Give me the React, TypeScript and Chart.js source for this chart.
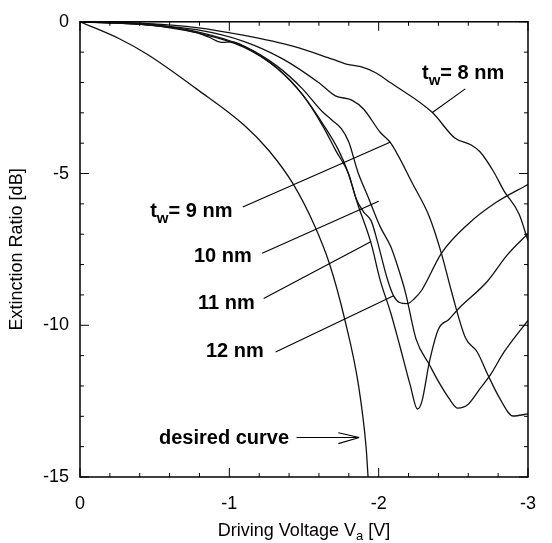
import React, { useEffect, useRef } from 'react';
import { Chart, registerables } from 'chart.js';

Chart.register(...registerables);

// ---- data (V in volts, extinction ratio in dB) ----
const tw8V = [0, -0.45, -0.78, -1.10, -1.43, -1.69, -1.79, -1.88, -1.98, -2.08, -2.36, -2.51, -2.62, -2.68, -2.77, -2.84, -2.94, -3.0];
const tw8Db = [0, -0.06, -0.19, -0.45, -0.81, -1.23, -1.40, -1.48, -1.68, -2.01, -2.99, -3.83, -4.06, -4.29, -4.94, -5.58, -6.33, -7.21];

const tw9V = [0, -0.45, -0.78, -1.10, -1.36, -1.60, -1.71, -1.82, -1.90, -2.01, -2.08, -2.23, -2.34, -2.42, -2.49, -2.58, -2.66, -2.73, -2.81, -2.90, -3.0];
const tw9Db = [0, -0.10, -0.26, -0.65, -1.23, -2.01, -2.44, -2.58, -2.88, -3.64, -3.99, -5.36, -6.43, -7.63, -8.93, -10.40, -10.88, -11.62, -12.40, -12.99, -12.92];

const tw10V = [0, -0.45, -0.78, -1.10, -1.32, -1.49, -1.62, -1.69, -1.75, -1.80, -1.86, -1.93, -2.01, -2.08, -2.12, -2.18, -2.25, -2.34, -2.40, -2.47, -2.53, -2.60, -2.68, -2.75, -2.84, -3.0];
const tw10Db = [0, -0.10, -0.32, -0.81, -1.46, -2.21, -2.95, -3.25, -3.52, -3.96, -4.94, -5.78, -6.75, -7.40, -7.95, -8.93, -10.45, -11.30, -11.85, -12.40, -12.73, -12.60, -12.08, -11.62, -10.88, -9.84];

const tw11V = [0, -0.45, -0.78, -1.10, -1.32, -1.49, -1.64, -1.73, -1.79, -1.86, -1.95, -2.01, -2.08, -2.14, -2.21, -2.26, -2.29, -2.34, -2.40, -2.47, -2.53, -2.73, -2.86, -3.0];
const tw11Db = [0, -0.10, -0.36, -0.84, -1.53, -2.40, -3.47, -4.22, -4.90, -6.01, -7.31, -8.51, -9.58, -10.65, -11.95, -12.76, -12.50, -11.20, -10.13, -9.81, -9.48, -8.54, -7.69, -6.98];

const tw12V = [0, -0.45, -0.78, -0.86, -0.95, -1.02, -1.10, -1.32, -1.49, -1.63, -1.71, -1.80, -1.85, -1.90, -1.95, -1.99, -2.06, -2.10, -2.14, -2.19, -2.24, -2.29, -2.42, -2.60, -2.79, -3.0];
const tw12Db = [0, -0.06, -0.36, -0.50, -0.68, -0.66, -0.81, -1.53, -2.40, -3.47, -4.22, -5.03, -5.84, -6.27, -6.56, -7.21, -8.51, -9.03, -9.25, -9.29, -9.12, -8.83, -7.63, -6.66, -5.94, -5.36];

const desiredV = [0, -0.26, -0.45, -0.78, -1.10, -1.266, -1.429, -1.571, -1.669, -1.773, -1.864, -1.916, -1.929];
const desiredDb = [0, -0.55, -1.07, -2.21, -3.41, -4.25, -5.36, -6.72, -7.95, -9.81, -11.95, -14.03, -15.0];

const xMajorTicks = [0, -1, -2, -3];
const yMajorTicks = [0, -5, -10, -15];
const xTitleParts = ['Driving Voltage V', 'a', ' [V]'];
const yTitle = 'Extinction Ratio [dB]';

// annotation labels: [text, subscript?] parts, anchor in data coords
const annotations = [
  { parts: [['t', false], ['w', true], ['= 8 nm', false]], v: -2.29, db: -1.88, align: 'left', lead: [-2.58, -2.21, -2.36, -2.99] },
  { parts: [['t', false], ['w', true], ['= 9 nm', false]], v: -0.47, db: -6.43, align: 'left', lead: [-1.09, -6.10, -2.08, -3.96] },
  { parts: [['10 nm', false]], v: -1.15, db: -7.92, align: 'right', lead: [-1.22, -7.63, -2.0, -5.91] },
  { parts: [['11 nm', false]], v: -1.17, db: -9.45, align: 'right', lead: [-1.23, -9.12, -1.95, -7.24] },
  { parts: [['12 nm', false]], v: -1.23, db: -11.04, align: 'right', lead: [-1.31, -10.88, -2.10, -9.03] },
  { parts: [['desired curve', false]], v: -1.40, db: -13.90, align: 'right', lead: [-1.45, -13.70, -1.87, -13.70] },
];
const arrowWings = [[-1.73, -13.54], [-1.73, -13.90]];

const FONT = '"Liberation Sans", Arial, Helvetica, sans-serif';

const toPts = (xs: number[], ys: number[]) => xs.map((v, i) => ({ x: v, y: ys[i] }));

const decorPlugin = {
  id: 'decor',
  afterDraw(chart: any) {
    const { ctx, chartArea: a } = chart;
    const xs = chart.scales.x;
    const ys = chart.scales.y;
    ctx.save();
    ctx.strokeStyle = '#000';
    ctx.fillStyle = '#000';
    // frame
    ctx.lineWidth = 1.5;
    ctx.strokeRect(a.left, a.top, a.right - a.left, a.bottom - a.top);
    // inward ticks
    ctx.lineWidth = 1;
    ctx.beginPath();
    xs.ticks.forEach((t: any) => {
      const p = xs.getPixelForValue(t.value);
      const len = xMajorTicks.some((m) => Math.abs(m - t.value) < 1e-6) ? 9 : 4;
      ctx.moveTo(p, a.bottom); ctx.lineTo(p, a.bottom - len);
      ctx.moveTo(p, a.top); ctx.lineTo(p, a.top + len);
    });
    ys.ticks.forEach((t: any) => {
      const p = ys.getPixelForValue(t.value);
      const len = yMajorTicks.some((m) => Math.abs(m - t.value) < 1e-6) ? 9 : 4;
      ctx.moveTo(a.left, p); ctx.lineTo(a.left + len, p);
      ctx.moveTo(a.right, p); ctx.lineTo(a.right - len, p);
    });
    ctx.stroke();

    // leader lines
    ctx.lineWidth = 1.1;
    ctx.beginPath();
    annotations.forEach((an) => {
      const [v1, d1, v2, d2] = an.lead;
      ctx.moveTo(xs.getPixelForValue(v1), ys.getPixelForValue(d1));
      ctx.lineTo(xs.getPixelForValue(v2), ys.getPixelForValue(d2));
    });
    const last = annotations[annotations.length - 1].lead;
    const tipX = xs.getPixelForValue(last[2]);
    const tipY = ys.getPixelForValue(last[3]);
    arrowWings.forEach(([v, d]) => {
      ctx.moveTo(xs.getPixelForValue(v), ys.getPixelForValue(d));
      ctx.lineTo(tipX, tipY);
    });
    ctx.stroke();

    // annotation texts
    ctx.textBaseline = 'alphabetic';
    ctx.textAlign = 'left';
    const mainFont = `bold 20px ${FONT}`;
    const subFont = `bold 15px ${FONT}`;
    annotations.forEach((an) => {
      let total = 0;
      an.parts.forEach(([s, sub]: any) => {
        ctx.font = sub ? subFont : mainFont;
        total += ctx.measureText(s).width;
      });
      let cx = xs.getPixelForValue(an.v);
      const by = ys.getPixelForValue(an.db);
      if (an.align === 'right') cx -= total;
      an.parts.forEach(([s, sub]: any) => {
        ctx.font = sub ? subFont : mainFont;
        ctx.fillText(s, cx, by + (sub ? 6 : 0));
        cx += ctx.measureText(s).width;
      });
    });

    // x title with subscript
    const tFont = `18px ${FONT}`;
    const tSub = `13px ${FONT}`;
    let w = 0;
    xTitleParts.forEach((s, i) => {
      ctx.font = i === 1 ? tSub : tFont;
      w += ctx.measureText(s).width;
    });
    let tx = (a.left + a.right) / 2 - w / 2;
    const tb = 536;
    xTitleParts.forEach((s, i) => {
      ctx.font = i === 1 ? tSub : tFont;
      ctx.fillText(s, tx, tb + (i === 1 ? 4 : 0));
      tx += ctx.measureText(s).width;
    });

    // y title
    ctx.save();
    ctx.translate(17, (a.top + a.bottom) / 2);
    ctx.rotate(-Math.PI / 2);
    ctx.font = tFont;
    ctx.textAlign = 'center';
    ctx.textBaseline = 'middle';
    ctx.fillText(yTitle, 0, 0);
    ctx.restore();

    ctx.restore();
  },
};

const lineDs = (xs: number[], ys: number[]) => ({
  data: toPts(xs, ys),
  borderColor: '#111',
  borderWidth: 1.3,
  pointRadius: 0,
  cubicInterpolationMode: 'monotone',
  fill: false,
});

export default function App() {
  const ref = useRef<HTMLCanvasElement | null>(null);
  useEffect(() => {
    if (!ref.current) return;
    const chart = new Chart(ref.current, {
      type: 'line',
      data: {
        datasets: [
          lineDs(tw8V, tw8Db),
          lineDs(tw9V, tw9Db),
          lineDs(tw10V, tw10Db),
          lineDs(tw11V, tw11Db),
          lineDs(tw12V, tw12Db),
          lineDs(desiredV, desiredDb),
        ],
      },
      options: {
        animation: false,
        responsive: false,
        parsing: false,
        layout: { padding: { left: 8, right: 10, top: 15, bottom: 0 } },
        plugins: { legend: { display: false }, tooltip: { enabled: false } },
        scales: {
          x: {
            type: 'linear',
            min: -3,
            max: 0,
            reverse: true,
            grid: { display: false, drawTicks: false },
            border: { display: false },
            ticks: {
              stepSize: 0.2,
              autoSkip: false,
              maxRotation: 0,
              padding: 16,
              color: '#000',
              font: { family: FONT, size: 18 },
              callback: (v: any) => {
                const m = xMajorTicks.find((t) => Math.abs(t - v) < 1e-6);
                return m === undefined ? '' : String(m);
              },
            },
            afterFit: (s: any) => { s.height = 66; },
          },
          y: {
            type: 'linear',
            min: -15,
            max: 0,
            grid: { display: false, drawTicks: false },
            border: { display: false },
            ticks: {
              stepSize: 1,
              autoSkip: false,
              padding: 11,
              color: '#000',
              font: { family: FONT, size: 18 },
              callback: (v: any) => {
                const m = yMajorTicks.find((t) => Math.abs(t - v) < 1e-6);
                return m === undefined ? '' : String(m);
              },
            },
            afterFit: (s: any) => { s.width = 72; },
          },
        },
      },
      plugins: [decorPlugin],
    } as any);
    return () => chart.destroy();
  }, []);
  return (
    <div style={{ position: 'absolute', left: 0, top: 0, width: 552, height: 543, background: '#fff' }}>
      <canvas ref={ref} width={552} height={543} style={{ display: 'block' }} />
    </div>
  );
}
